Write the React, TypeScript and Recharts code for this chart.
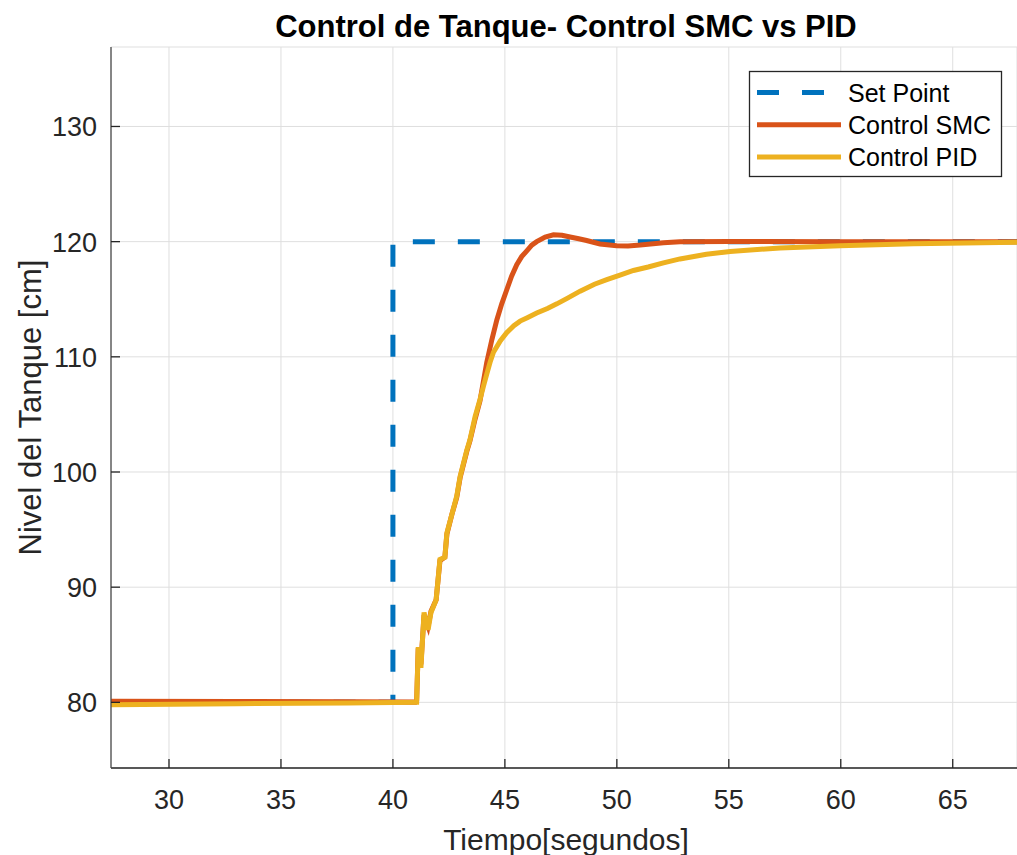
import React from 'react';
import { LineChart, Line, XAxis, YAxis, CartesianGrid, Label } from 'recharts';

const spTime = [27.3, 40, 40, 68];
const spLevel = [80, 80, 120, 120];

const smcTime = [27.3, 33, 38, 41.0, 41.06, 41.13, 41.25, 41.39, 41.57, 41.7, 41.93, 42.1, 42.32, 42.41, 42.63, 42.85, 43.0, 43.3, 43.44, 43.67, 43.89, 44.19, 44.42, 44.64, 44.86, 45.08, 45.3, 45.53, 45.75, 45.98, 46.2, 46.42, 46.8, 47.17, 47.55, 47.91, 48.3, 48.65, 49.25, 49.99, 50.5, 51.04, 52.08, 52.82, 55, 60, 68];
const smcLevel = [80.1, 80.08, 80.05, 80.02, 80.2, 84.7, 83.3, 87.6, 86.6, 87.9, 88.9, 92.3, 92.6, 94.6, 96.3, 97.8, 99.5, 101.8, 102.7, 104.6, 106.2, 109.5, 111.5, 113.2, 114.6, 115.8, 117.0, 118.0, 118.7, 119.2, 119.7, 120.0, 120.4, 120.6, 120.55, 120.4, 120.25, 120.1, 119.8, 119.65, 119.63, 119.7, 119.9, 120.0, 120.02, 120.0, 120.0];

const pidTime = [27.3, 33, 38, 41.0, 41.06, 41.13, 41.25, 41.39, 41.57, 41.7, 41.93, 42.1, 42.32, 42.41, 42.63, 42.85, 43.0, 43.3, 43.44, 43.67, 43.89, 44.05, 44.19, 44.35, 44.49, 44.8, 45.08, 45.4, 45.68, 46.0, 46.42, 46.9, 47.32, 47.8, 48.36, 49.0, 49.55, 50.14, 50.74, 51.4, 52.08, 52.82, 54, 55.06, 57.29, 59.97, 63.24, 68];
const pidLevel = [79.8, 79.88, 79.95, 80.0, 80.0, 84.8, 83.0, 87.8, 86.3, 87.8, 88.9, 92.4, 92.6, 94.7, 96.3, 97.9, 99.6, 101.9, 102.8, 104.8, 106.3, 107.5, 108.5, 109.6, 110.4, 111.4, 112.1, 112.7, 113.1, 113.4, 113.8, 114.2, 114.6, 115.1, 115.7, 116.3, 116.7, 117.1, 117.5, 117.8, 118.15, 118.5, 118.9, 119.15, 119.45, 119.65, 119.82, 119.95];

const xTicks = [30, 35, 40, 45, 50, 55, 60, 65];
const yTicks = [80, 90, 100, 110, 120, 130];

const seriesNames = ['Set Point', 'Control SMC', 'Control PID'];
const seriesColors = ['#0072BD', '#D95319', '#EDB120'];

const titleText = 'Control de Tanque- Control SMC vs PID';
const xLabelText = 'Tiempo[segundos]';
const yLabelText = 'Nivel del Tanque [cm]';

const FONT = '"Liberation Sans", Arial, Helvetica, sans-serif';
const TXT = '#262626';

const toRows = (t: number[], v: number[]) => t.map((x, i) => ({ t: x, v: v[i] }));
const spData = toRows(spTime, spLevel);
const smcData = toRows(smcTime, smcLevel);
const pidData = toRows(pidTime, pidLevel);

const XTick = (props: any) => {
  const { x, y, payload } = props;
  return (
    <g>
      <line x1={x} x2={x} y1={y} y2={y - 9} stroke={TXT} strokeWidth={1.3} />
      <text x={x} y={y + 41} textAnchor="middle" fontSize={27} fill={TXT} fontFamily={FONT}>
        {payload.value}
      </text>
    </g>
  );
};

const YTick = (props: any) => {
  const { x, y, payload } = props;
  return (
    <g>
      <line x1={x} x2={x + 9} y1={y} y2={y} stroke={TXT} strokeWidth={1.3} />
      <text x={x - 14} y={y + 10} textAnchor="end" fontSize={27} fill={TXT} fontFamily={FONT}>
        {payload.value}
      </text>
    </g>
  );
};

const YLabel = (props: any) => {
  const vb = props.viewBox || {};
  const cy = vb.y + vb.height / 2;
  const cx = 41;
  return (
    <text
      x={cx}
      y={cy}
      transform={`rotate(-90 ${cx} ${cy})`}
      textAnchor="middle"
      fontSize={31}
      fill={TXT}
      fontFamily={FONT}
    >
      {yLabelText}
    </text>
  );
};

const XLabel = () => {
  const cx = 566;
  return (
    <text x={cx} y={850} textAnchor="middle" fontSize={30} fill={TXT} fontFamily={FONT}>
      {xLabelText}
    </text>
  );
};

export default function App() {
  return (
    <div style={{ position: 'absolute', left: 0, top: 0, width: 1017, height: 855, background: '#fff' }}>
      <LineChart width={1017} height={855} margin={{ top: 47, right: 0, left: 0, bottom: 0 }}>
        <CartesianGrid stroke="#dfdfdf" strokeWidth={1} horizontal vertical />
        <XAxis
          dataKey="t"
          type="number"
          domain={[27.41, 67.87]}
          allowDataOverflow
          ticks={xTicks}
          height={87}
          tickSize={0}
          tickMargin={0}
          tickLine={false}
          tick={<XTick />}
          axisLine={{ stroke: TXT, strokeWidth: 1.5 }}
          interval={0}
        >
          <Label content={<XLabel />} />
        </XAxis>
        <YAxis
          dataKey="v"
          type="number"
          domain={[74.3, 136.9]}
          allowDataOverflow
          ticks={yTicks}
          width={111}
          tickSize={0}
          tickMargin={0}
          tickLine={false}
          tick={<YTick />}
          axisLine={{ stroke: '#4d4d4d', strokeWidth: 1.3 }}
          interval={0}
        >
          <Label content={<YLabel />} />
        </YAxis>
        <Line
          data={spData}
          dataKey="v"
          name={seriesNames[0]}
          stroke={seriesColors[0]}
          strokeWidth={5}
          strokeDasharray="22 23"
          dot={false}
          activeDot={false}
          isAnimationActive={false}
          type="linear"
        />
        <Line
          data={smcData}
          dataKey="v"
          name={seriesNames[1]}
          stroke={seriesColors[1]}
          strokeWidth={5}
          dot={false}
          activeDot={false}
          isAnimationActive={false}
          type="linear"
        />
        <Line
          data={pidData}
          dataKey="v"
          name={seriesNames[2]}
          stroke={seriesColors[2]}
          strokeWidth={5}
          dot={false}
          activeDot={false}
          isAnimationActive={false}
          type="linear"
        />
      </LineChart>
      <svg
        width={1017}
        height={855}
        style={{ position: 'absolute', left: 0, top: 0, pointerEvents: 'none' }}
      >
        <text x={566} y={37} textAnchor="middle" fontSize={31} fontWeight="bold" fill="#000" fontFamily={FONT}>
          {titleText}
        </text>
        <g>
          <rect x={749.5} y={71.5} width={252} height={105} fill="#fff" stroke={TXT} strokeWidth={1.3} />
          {seriesNames.map((n, i) => {
            const cy = 92.5 + i * 32.3;
            return (
              <g key={n}>
                <line
                  x1={757}
                  x2={841}
                  y1={cy}
                  y2={cy}
                  stroke={seriesColors[i]}
                  strokeWidth={5}
                  strokeDasharray={i === 0 ? '22 23' : undefined}
                />
                <text x={848} y={cy + 9} fontSize={25} fill="#000" fontFamily={FONT}>
                  {n}
                </text>
              </g>
            );
          })}
        </g>
      </svg>
    </div>
  );
}
